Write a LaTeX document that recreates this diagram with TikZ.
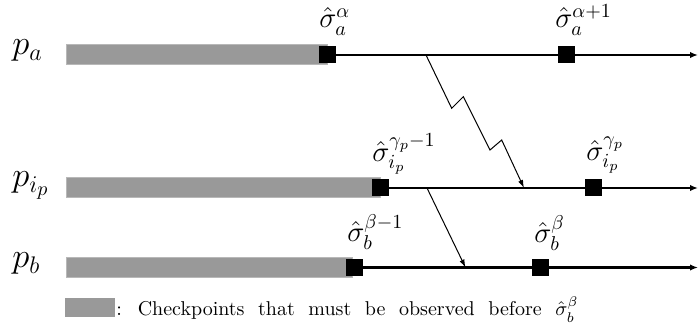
\documentclass[tikz,border=0pt]{standalone}
\usetikzlibrary{arrows.meta}
\begin{document}
\begin{tikzpicture}[x=0.5pt,y=-0.5pt,
  procline/.style={line width=1.2pt,-{Latex[length=4pt,width=3.2pt]}},
  msg/.style={line width=0.5pt,-{Latex[length=4pt,width=2.6pt]}},
  ckpt/.style={fill=black,draw=none,minimum size=8.5pt,inner sep=0pt},
  greybar/.style={fill=black!40,draw=black!28,line width=0.4pt},
  lab/.style={anchor=base west,inner sep=0pt,font=\Large},
  plab/.style={anchor=base west,inner sep=0pt,font=\LARGE}]
\useasboundingbox (0,0) rectangle (698,331);
% process labels
\node[plab] (pa) at (12,55) {$p_a$};
\node[plab] (pip) at (12,187) {$p_{i_p}$};
\node[plab] (pb) at (12,268) {$p_b$};
% grey bars
\draw[greybar] (66,44) rectangle (327,64);
\draw[greybar] (66,177) rectangle (380,197);
\draw[greybar] (66,257) rectangle (352,277);
% end coordinates
\coordinate (ea) at (698,55);
\coordinate (ei) at (698,188);
\coordinate (eb) at (698,267.5);
% checkpoints
\node[ckpt] (a1) at (327.5,55) {};
\node[ckpt] (a2) at (566.5,55) {};
\node[ckpt] (i1) at (380.5,188) {};
\node[ckpt] (i2) at (593.5,188) {};
\node[ckpt] (b1) at (354.5,267.5) {};
\node[ckpt] (b2) at (540.5,267.5) {};
% process lines
\draw[procline] (a1.east) -- (ea);
\draw[procline] (i1.east) -- (ei);
\draw[procline] (b1.east) -- (eb);
\node[ckpt] at (a2) {};
\node[ckpt] at (i2) {};
\node[ckpt] at (b2) {};
% labels
\node[lab] (la1) at (319,28) {$\hat{\sigma}_a^{\alpha}$};
\node[lab] (la2) at (555,28) {$\hat{\sigma}_a^{\alpha+1}$};
\node[lab] (li1) at (372,162) {$\hat{\sigma}_{i_p}^{\gamma_p-1}$};
\node[lab] (li2) at (586,161) {$\hat{\sigma}_{i_p}^{\gamma_p}$};
\node[lab] (lb1) at (347,242) {$\hat{\sigma}_b^{\beta-1}$};
\node[lab] (lb2) at (534,243) {$\hat{\sigma}_b^{\beta}$};
% messages
\coordinate (m1s) at (426,55);
\coordinate (m1e) at (524,188);
\coordinate (m2s) at (427,188);
\coordinate (m2e) at (465.5,267.5);
\draw[msg] (m1s) -- (451.7,108.3) -- (463.3,96.7) -- (490,150) -- (501.7,140) -- (m1e);
\draw[msg] (m2s) -- (m2e);
% legend
\draw[fill=black!40,draw=none] (65,298) rectangle (115,317) coordinate (leg);
\node[anchor=base west,inner sep=0pt,font=\normalsize] (legtext) at (116,316)
  {\spaceskip=6.8pt plus 1pt: Checkpoints that must be observed before $\hat{\sigma}_b^{\beta}$};
\end{tikzpicture}
\end{document}
